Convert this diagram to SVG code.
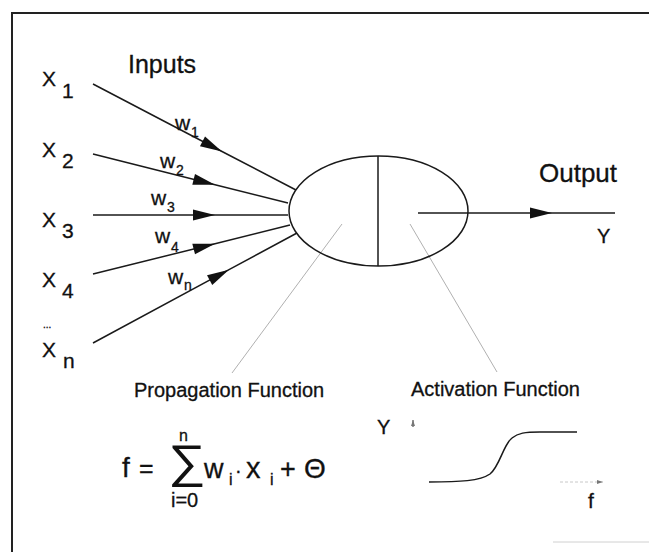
<svg xmlns="http://www.w3.org/2000/svg" width="649" height="552" viewBox="0 0 649 552">
<defs>
<marker id="arr" markerUnits="userSpaceOnUse" viewBox="-23 -6 24 12" markerWidth="24" markerHeight="12" refX="0" refY="0" orient="auto">
<path d="M0,0 L-22,-5.5 L-22,5.5 z" fill="#111"/>
</marker>
<marker id="arrs" markerUnits="userSpaceOnUse" viewBox="-7 -3 8 6" markerWidth="8" markerHeight="6" refX="0" refY="0" orient="auto">
<path d="M0,0 L-6,-2 L-6,2 z" fill="#777"/>
</marker>
</defs>
<style>
.t{font-family:"Liberation Sans",Arial,sans-serif;fill:#111;stroke:#111;stroke-width:0.3}
.ln{stroke:#1a1a1a;stroke-width:1.5;fill:none}
.gr{stroke:#b0b0b0;stroke-width:1;fill:none}
</style>
<rect width="649" height="552" fill="#fff"/>
<path d="M12,552 L12,13 L649,13" stroke="#222" stroke-width="2" fill="none"/>
<line x1="553" y1="542" x2="649" y2="542" stroke="#d0d0d0" stroke-width="1"/>

<g id="inputs-label"><text class="t" x="128" y="73" font-size="25">Inputs</text></g>

<g id="x1"><text class="t" x="42" y="86" font-size="21">X</text><text class="t" x="62" y="98" font-size="21">1</text></g>
<g id="x2"><text class="t" x="42" y="157" font-size="21">X</text><text class="t" x="62" y="168" font-size="21">2</text></g>
<g id="x3"><text class="t" x="42" y="227" font-size="21">X</text><text class="t" x="62" y="238" font-size="21">3</text></g>
<g id="x4"><text class="t" x="42" y="287" font-size="21">X</text><text class="t" x="62" y="298" font-size="21">4</text></g>
<g id="dots"><text class="t" x="43" y="328" font-size="10" stroke-width="0">...</text></g>
<g id="xn"><text class="t" x="42" y="357" font-size="21">X</text><text class="t" x="63" y="368" font-size="21">n</text></g>

<g id="connectors">
<path class="ln" d="M93,84 L222,151.5 L296,190" marker-mid="url(#arr)"/>
<path class="ln" d="M93,154 L215,184.7 L288,203" marker-mid="url(#arr)"/>
<path class="ln" d="M93,215 L215,215 L288,215" marker-mid="url(#arr)"/>
<path class="ln" d="M93,274 L215,243.7 L290,225" marker-mid="url(#arr)"/>
<path class="ln" d="M93,343 L229,269.7 L297,233" marker-mid="url(#arr)"/>
<path class="ln" d="M418,213 L552,213 L615,213" marker-mid="url(#arr)"/>
<line class="gr" x1="342" y1="224" x2="232" y2="373"/>
<line class="gr" x1="410" y1="224" x2="497" y2="372"/>
</g>

<g id="weights">
<text class="t" x="175" y="130" font-size="21">w</text><text class="t" x="191" y="137" font-size="14">1</text>
<text class="t" x="160" y="168" font-size="21">w</text><text class="t" x="176" y="175" font-size="14">2</text>
<text class="t" x="151" y="205" font-size="21">w</text><text class="t" x="167" y="212" font-size="14">3</text>
<text class="t" x="155" y="243" font-size="21">w</text><text class="t" x="171" y="252" font-size="14">4</text>
<text class="t" x="168" y="284" font-size="21">w</text><text class="t" x="184" y="290" font-size="14">n</text>
</g>

<g id="neuron">
<ellipse cx="378.5" cy="211" rx="89.5" ry="55" fill="none" stroke="#1a1a1a" stroke-width="1.5"/>
<line x1="378" y1="156" x2="378" y2="266" stroke="#1a1a1a" stroke-width="1.5"/>
</g>

<g id="output">
<text class="t" x="539" y="182" font-size="26">Output</text>
<text class="t" x="597" y="243" font-size="20">Y</text>
</g>

<g id="propagation">
<text class="t" x="134" y="397" font-size="20">Propagation Function</text>
<text class="t" x="122" y="477" font-size="28">f</text>
<text class="t" x="139" y="477" font-size="25">=</text>
<text transform="translate(168,477) scale(1.32,1.15)" x="0" y="0" font-size="40" font-weight="200" fill="#111" style="font-family:'DejaVu Sans',sans-serif">∑</text>
<text class="t" x="179" y="441" font-size="16">n</text>
<text class="t" x="171" y="507" font-size="20">i=0</text>
<text class="t" x="204" y="478" font-size="27">w</text>
<text class="t" x="229" y="485" font-size="16">i</text>
<text class="t" x="235" y="477" font-size="20">·</text>
<text class="t" x="246" y="478" font-size="29">x</text>
<text class="t" x="270" y="485" font-size="16">i</text>
<text class="t" x="280" y="478" font-size="27">+</text>
<text class="t" x="304" y="478" font-size="28">Θ</text>
</g>

<g id="activation">
<text class="t" x="411" y="396" font-size="20">Activation Function</text>
<text class="t" x="377" y="434" font-size="20">Y</text>
<line x1="413" y1="427" x2="413" y2="420" stroke="#555" stroke-width="1.2" marker-end="url(#arrs)"/>
<line x1="560" y1="482" x2="603" y2="482" stroke="#c8c8c8" stroke-width="1" stroke-dasharray="3,2" marker-end="url(#arrs)"/>
<path class="ln" d="M429,482 C460,482 480,481 490,474 C500,466 503,445 512,438 C518,433 525,432 540,432 L577,432"/>
<text class="t" x="588" y="508" font-size="21">f</text>
</g>
</svg>
